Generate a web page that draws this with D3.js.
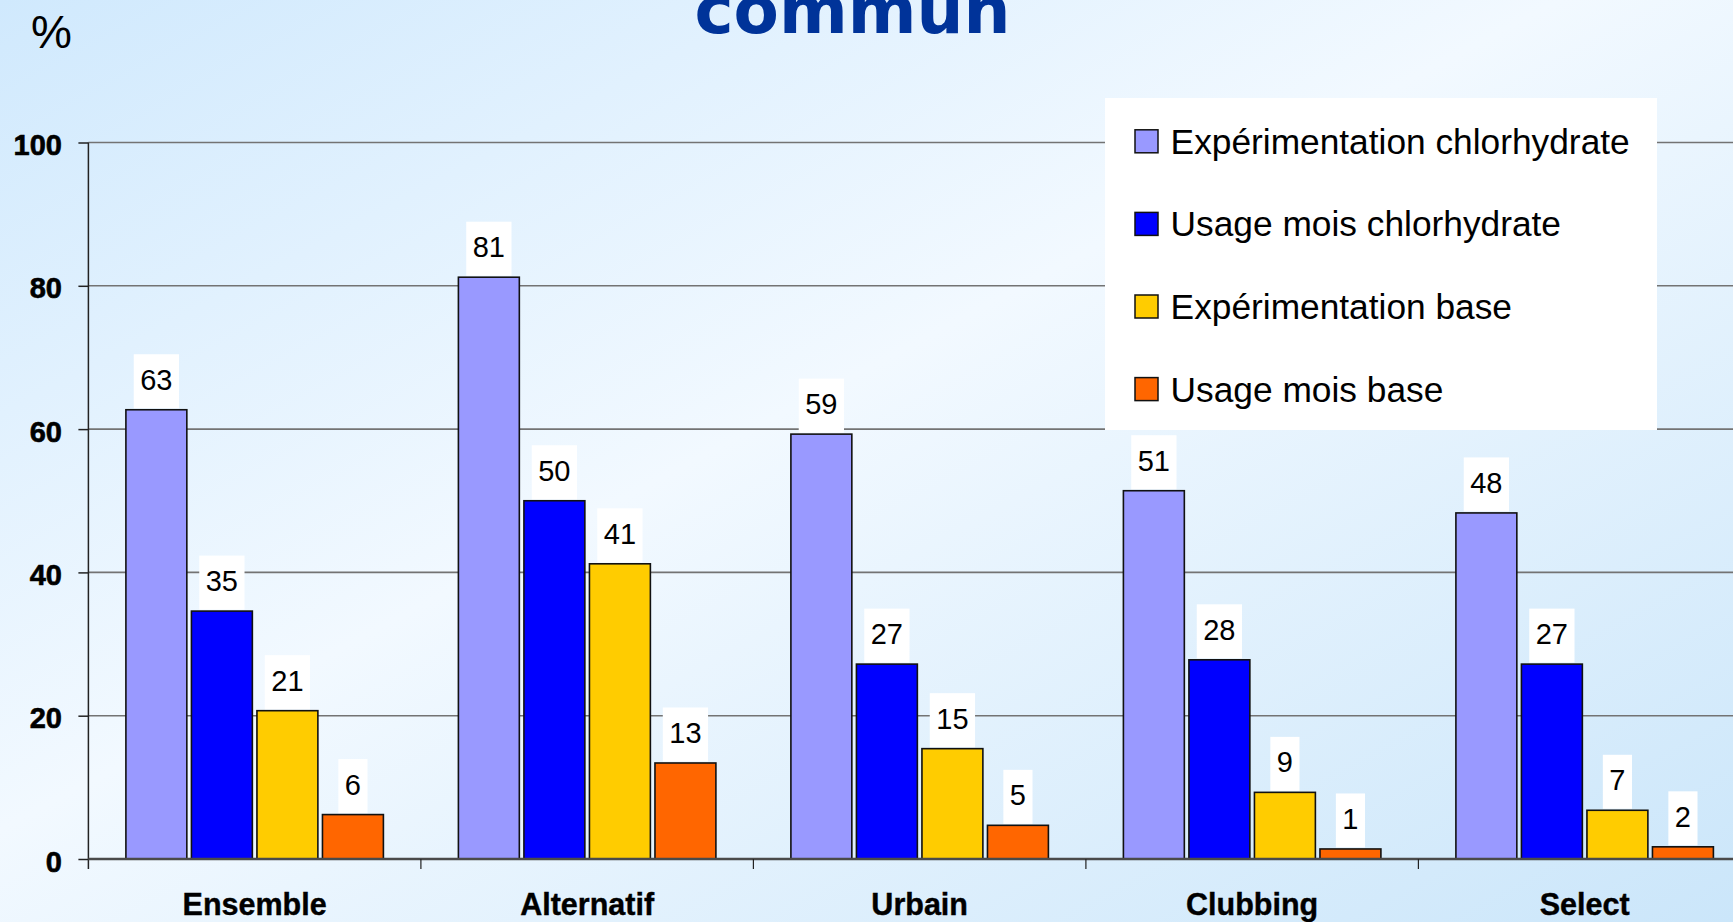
<!DOCTYPE html>
<html>
<head>
<meta charset="utf-8">
<script src="https://cdn.jsdelivr.net/npm/d3@7"></script>
<style>
  html, body { margin: 0; padding: 0; overflow: hidden; }
  svg { display: block; }
</style>
</head>
<body>
<div id="chart"></div>
<script>
// data
var categories = ["Ensemble", "Alternatif", "Urbain", "Clubbing", "Select"];
var series = ["Expérimentation chlorhydrate", "Usage mois chlorhydrate", "Expérimentation base", "Usage mois base"];
var expChlor = [62.7, 81.2, 59.3, 51.4, 48.3];
var usageChlor = [34.6, 50.0, 27.2, 27.8, 27.2];
var expBase = [20.7, 41.2, 15.4, 9.3, 6.8];
var usageBase = [6.2, 13.4, 4.7, 1.4, 1.7];
var yTicks = [0, 20, 40, 60, 80, 100];
var colors = ["#9999ff", "#0000ff", "#ffcc00", "#ff6600"];

var width = 1733, height = 922;
var values = [expChlor, usageChlor, expBase, usageBase];

var svg = d3.select("#chart")
  .append("svg")
  .attr("width", width)
  .attr("height", height);

// background
var defs = svg.append("defs");
var grad = defs.append("linearGradient")
  .attr("id", "bg")
  .attr("x1", "0%").attr("y1", "0%")
  .attr("x2", "100%").attr("y2", "100%");
grad.append("stop").attr("offset", "0%").attr("stop-color", "#d0e9fd");
grad.append("stop").attr("offset", "45%").attr("stop-color", "#f2f9ff");
grad.append("stop").attr("offset", "100%").attr("stop-color", "#cbe6fa");

svg.append("rect")
  .attr("width", width)
  .attr("height", height)
  .attr("fill", "url(#bg)");

var left = 88.4, bandW = 332.5;

var y = d3.scaleLinear()
  .domain([0, 100])
  .range([859, 142.5]);

var x0 = d3.scaleBand()
  .domain(categories)
  .range([left, left + bandW * categories.length])
  .padding(0);

var x1 = d3.scaleBand()
  .domain(series)
  .range([37.5, bandW - 37.5])
  .paddingInner(0.07);

// gridlines
svg.append("g")
  .selectAll("line")
  .data(yTicks.filter(d => d > 0))
  .enter()
  .append("line")
  .attr("x1", left)
  .attr("x2", width)
  .attr("y1", d => y(d))
  .attr("y2", d => y(d))
  .style("stroke", "#737373")
  .style("stroke-width", 1.6);

// y axis
var yAxis = svg.append("g")
  .attr("transform", "translate(" + left + ",0)")
  .call(d3.axisLeft(y).tickValues(yTicks).tickSize(10).tickPadding(16.5));

yAxis.select(".domain").remove();
yAxis.selectAll(".tick line").style("stroke", "#222").style("stroke-width", 1.5);
yAxis.selectAll("text")
  .attr("dy", "0.42em")
  .style("font-family", "'Liberation Sans', Arial, sans-serif")
  .style("font-weight", "bold")
  .style("font-size", "29px")
  .style("stroke", "#000")
  .style("stroke-width", 0.6)
  .style("fill", "#000");

svg.append("line")
  .attr("x1", left).attr("x2", left)
  .attr("y1", y(100)).attr("y2", 869)
  .style("stroke", "#222")
  .style("stroke-width", 1.5);

// bars
var groups = svg.append("g")
  .selectAll("g")
  .data(categories)
  .enter()
  .append("g")
  .attr("transform", d => "translate(" + x0(d) + ",0)");

var barData = function (c, ci) {
  return series.map((s, si) => ({ s: s, si: si, v: values[si][ci] }));
};

groups.selectAll("rect")
  .data(barData)
  .enter()
  .append("rect")
  .attr("x", d => x1(d.s))
  .attr("y", d => y(d.v))
  .attr("width", x1.bandwidth())
  .attr("height", d => y(0) - y(d.v))
  .style("fill", d => colors[d.si])
  .style("stroke", "#111")
  .style("stroke-width", 1.6);

// x baseline and category ticks
svg.append("line")
  .attr("x1", left).attr("x2", width)
  .attr("y1", y(0)).attr("y2", y(0))
  .style("stroke", "#4a4a4a")
  .style("stroke-width", 2.5);

svg.append("g")
  .selectAll("line")
  .data(categories.slice(1))
  .enter()
  .append("line")
  .attr("x1", d => x0(d)).attr("x2", d => x0(d))
  .attr("y1", y(0)).attr("y2", 869)
  .style("stroke", "#222")
  .style("stroke-width", 1.2);

var xAxis = svg.append("g")
  .attr("transform", "translate(0," + y(0) + ")")
  .call(d3.axisBottom(x0).tickSize(0).tickPadding(34.5));

xAxis.select(".domain").remove();
xAxis.selectAll("text")
  .style("font-family", "'Liberation Sans', Arial, sans-serif")
  .style("font-weight", "bold")
  .style("font-size", "30.5px")
  .style("stroke", "#000")
  .style("stroke-width", 0.4)
  .style("fill", "#000");

// value labels with white boxes
var labels = groups.selectAll("g.lab")
  .data(barData)
  .enter()
  .append("g")
  .attr("class", "lab");

labels.append("rect")
  .style("fill", "#fff");

labels.append("text")
  .attr("x", d => x1(d.s) + x1.bandwidth() / 2)
  .attr("y", d => y(d.v) - 20)
  .attr("text-anchor", "middle")
  .style("font-family", "'Liberation Sans', Arial, sans-serif")
  .style("font-size", "29px")
  .style("fill", "#000")
  .text(d => d3.format(".0f")(d.v));

labels.each(function (d) {
  var g = d3.select(this);
  var w = g.select("text").node().getComputedTextLength() + 13;
  g.select("rect")
    .attr("x", x1(d.s) + x1.bandwidth() / 2 - w / 2)
    .attr("y", y(d.v) - 1.5 - 54)
    .attr("width", w)
    .attr("height", 54);
});

// legend
var legend = svg.append("g");

legend.append("rect")
  .attr("x", 1105)
  .attr("y", 98)
  .attr("width", 552)
  .attr("height", 332)
  .style("fill", "#fff");

var items = legend.selectAll("g.item")
  .data(series)
  .enter()
  .append("g")
  .attr("class", "item")
  .attr("transform", (d, i) => "translate(1135," + (141.3 + i * 82.6) + ")");

items.append("rect")
  .attr("x", 0)
  .attr("y", -11.5)
  .attr("width", 23)
  .attr("height", 23)
  .style("fill", (d, i) => colors[i])
  .style("stroke", "#111")
  .style("stroke-width", 1.5);

items.append("text")
  .attr("x", 35.6)
  .attr("y", 12.5)
  .style("font-family", "'Liberation Sans', Arial, sans-serif")
  .style("font-size", "35.3px")
  .style("fill", "#000")
  .text(d => d);

// title remnant (the rest of the title sits above the frame) and unit
svg.append("text")
  .attr("x", 852.5)
  .attr("y", 33)
  .attr("text-anchor", "middle")
  .style("font-family", "'DejaVu Sans', Verdana, sans-serif")
  .style("font-weight", "bold")
  .style("font-size", "66px")
  .style("fill", "#003399")
  .text("commun");

svg.append("text")
  .attr("x", 31)
  .attr("y", 47.5)
  .style("font-family", "'Liberation Sans', Arial, sans-serif")
  .style("font-size", "46px")
  .style("fill", "#000")
  .text("%");
</script>
</body>
</html>
